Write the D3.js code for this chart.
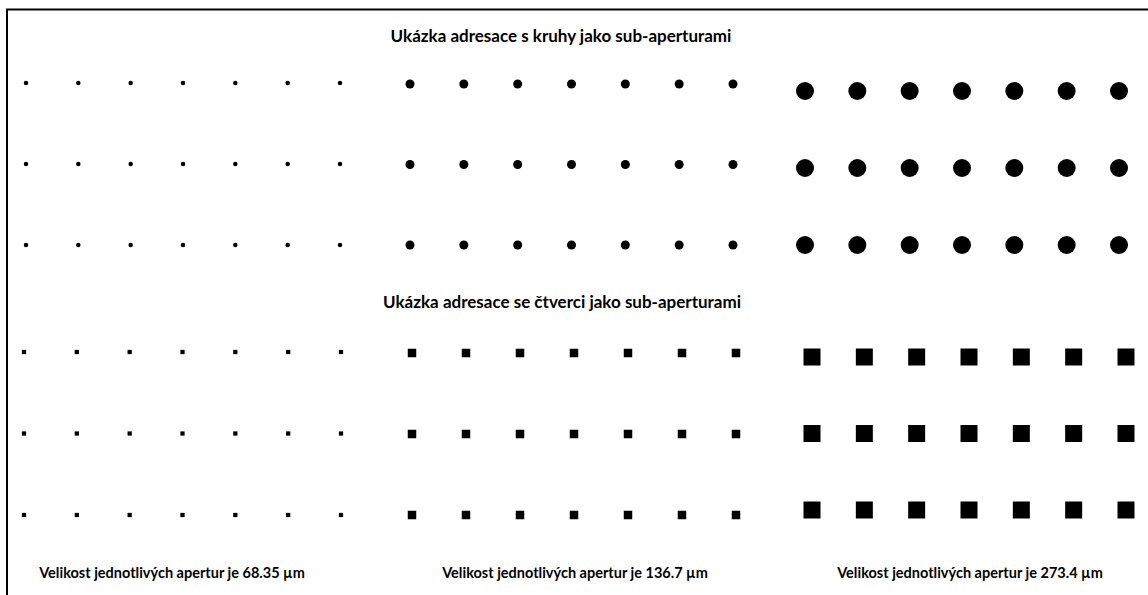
<!DOCTYPE html>
<html>
<head>
<meta charset="utf-8">
<script src="https://cdn.jsdelivr.net/npm/d3@7"></script>
<style>
  body { margin: 0; background: #fff; }
  text { font-family: Lato, "Open Sans", sans-serif; fill: #000; }
</style>
</head>
<body>
<svg id="chart" width="1148" height="595"></svg>
<script>
'use strict';

// data
var apertureSizes = [68.35, 136.7, 273.4];   // um
var columns = [1, 2, 3, 4, 5, 6, 7];
var rows = [1, 2, 3];
var shapes = ['circle', 'square'];
var titles = ['Ukázka adresace s kruhy jako sub-aperturami',
              'Ukázka adresace se čtverci jako sub-aperturami'];
var sizeLabels = ['Velikost jednotlivých apertur je 68.35 µm',
                  'Velikost jednotlivých apertur je 136.7 µm',
                  'Velikost jednotlivých apertur je 273.4 µm'];

// layout of the panels (px)
var panelX = [
  [[26, 340], [410, 733], [805, 1119]],   // kruhy
  [[24, 341], [412, 736], [812, 1126]]    // ctverce
];
var panelY = [
  [[83, 245], [84, 245], [91, 245]],
  [[352, 515], [353, 515], [357, 510]]
];

var svg = d3.select('#chart');

// frame: only top and left edges are visible
svg.append('line').attr('x1', 6).attr('x2', 1148).attr('y1', 9.5).attr('y2', 9.5)
  .attr('stroke', '#000').attr('stroke-width', 2);
svg.append('line').attr('x1', 7).attr('x2', 7).attr('y1', 9).attr('y2', 595)
  .attr('stroke', '#000').attr('stroke-width', 2);

// size of one aperture on screen
var circleSize = d3.scaleLinear().domain([0, d3.max(apertureSizes)]).range([0, 18]);
var squareSize = d3.scaleLinear().domain([0, d3.max(apertureSizes)]).range([0, 17]);

shapes.forEach(function (shape, si) {
  apertureSizes.forEach(function (ap, gi) {
    var x = d3.scalePoint().domain(columns).range(panelX[si][gi]);
    var y = d3.scalePoint().domain(rows).range(panelY[si][gi]);
    var cells = [];
    rows.forEach(function (r) {
      columns.forEach(function (c) { cells.push({ r: r, c: c }); });
    });
    var g = svg.append('g').attr('class', 'panel');
    if (shape === 'circle') {
      var d0 = circleSize(ap);
      g.selectAll('circle').data(cells).enter().append('circle')
        .attr('cx', function (d) { return x(d.c); })
        .attr('cy', function (d) { return y(d.r); })
        .attr('r', d0 / 2)
        .attr('fill', '#000');
    } else {
      var s = squareSize(ap);
      g.selectAll('rect').data(cells).enter().append('rect')
        .attr('x', function (d) { return x(d.c) - s / 2; })
        .attr('y', function (d) { return y(d.r) - s / 2; })
        .attr('width', s)
        .attr('height', s)
        .attr('fill', '#000');
    }
  });
});

// titles
svg.selectAll('.title').data(titles).enter().append('text')
  .attr('class', 'title')
  .attr('x', function (d, i) { return i === 0 ? 561 : 562; })
  .attr('y', function (d, i) { return i === 0 ? 42 : 308; })
  .attr('text-anchor', 'middle')
  .style('font-size', '17px')
  .style('font-weight', 700)
  .text(function (d) { return d; });

// size labels under each column of panels
svg.selectAll('.label').data(sizeLabels).enter().append('text')
  .attr('class', 'label')
  .attr('x', function (d, i) { return [172, 575, 970][i]; })
  .attr('y', 578)
  .attr('text-anchor', 'middle')
  .style('font-size', '14.5px')
  .style('font-weight', 700)
  .text(function (d) { return d; });
</script>
</body>
</html>
